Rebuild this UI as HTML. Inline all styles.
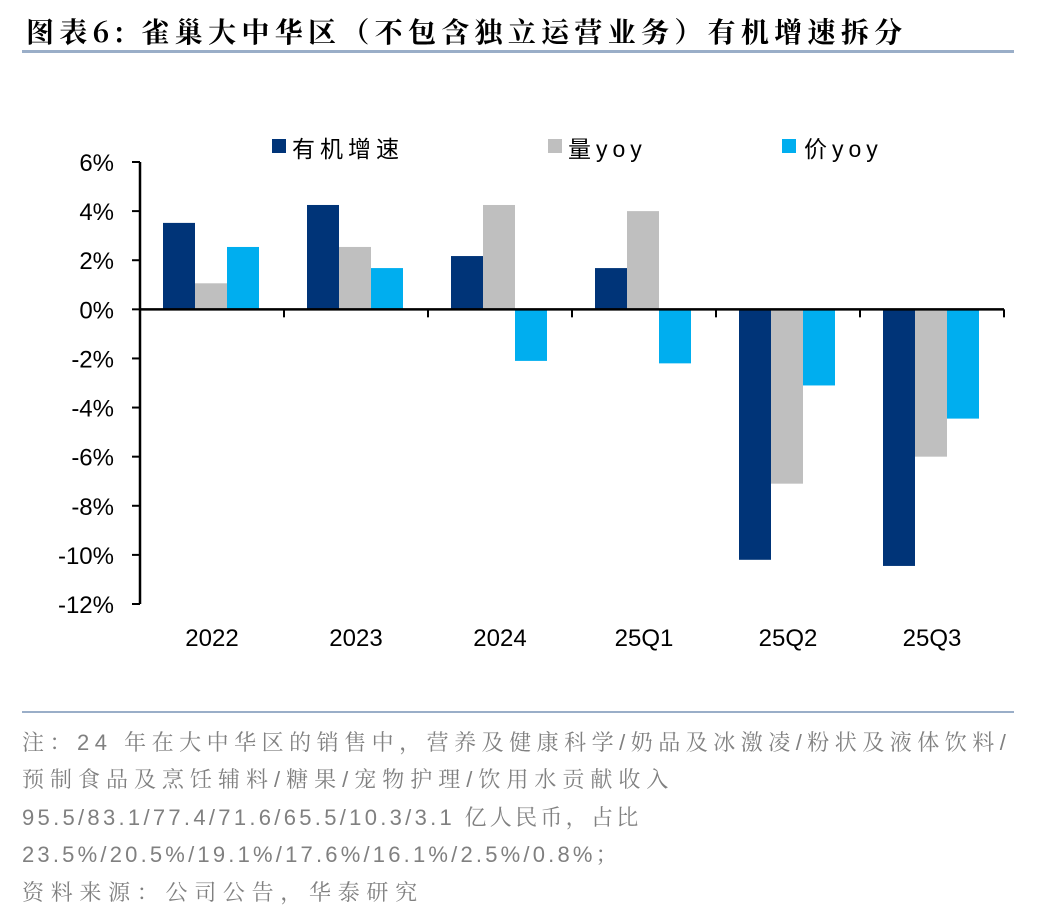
<!DOCTYPE html>
<html><head><meta charset="utf-8"><style>
body{margin:0;background:#fff;width:1048px;height:924px;overflow:hidden;font-family:"Liberation Sans","Noto Sans CJK SC",sans-serif;}
.title{position:absolute;left:26px;top:11px;font-size:28px;font-weight:bold;font-family:"Noto Serif CJK SC","Liberation Serif",serif;letter-spacing:5.3px;color:#000;white-space:nowrap}
.note{position:absolute;left:22px;font-size:22px;color:#808080;font-family:"Liberation Sans","Noto Serif CJK SC",sans-serif;white-space:nowrap}
</style></head><body>
<div class="title">图表6:&nbsp;雀巢大中华区（不包含独立运营业务）有机增速拆分</div>
<div style="position:absolute;left:22px;top:50px;width:992px;height:3px;background:#9aaec8"></div>
<svg id="chart" width="1048" height="700" style="position:absolute;left:0;top:0"></svg>
<div style="position:absolute;left:22px;top:711px;width:992px;height:2px;background:#9aaec8"></div>
<div class="note" style="top:726px;letter-spacing:5.5px">注：24 年在大中华区的销售中，营养及健康科学/奶品及冰激凌/粉状及液体饮料/</div>
<div class="note" style="top:763px;letter-spacing:6px">预制食品及烹饪辅料/糖果/宠物护理/饮用水贡献收入</div>
<div class="note" style="top:801px;letter-spacing:3.3px">95.5/83.1/77.4/71.6/65.5/10.3/3.1 亿人民币，占比</div>
<div class="note" style="top:838px;letter-spacing:3.2px">23.5%/20.5%/19.1%/17.6%/16.1%/2.5%/0.8%；</div>
<div class="note" style="top:876px;letter-spacing:6.7px">资料来源：公司公告，华泰研究</div>
<script>
const categories=["2022","2023","2024","25Q1","25Q2","25Q3"];
const organic=[3.52,4.25,2.17,1.68,-10.2,-10.45];
const volume=[1.06,2.54,4.25,4.0,-7.1,-6.0];
const price=[2.54,1.68,-2.1,-2.2,-3.1,-4.45];
const yTicks=[6,4,2,0,-2,-4,-6,-8,-10,-12];
const seriesNames=["有机增速","量yoy","价yoy"];
const colors=["#003478","#bfbfbf","#00aeef"];
const NS="http://www.w3.org/2000/svg";
const svg=document.getElementById('chart');
const x0=140,x1=1004,yTop=162,yBot=604;
const y=v=>yTop+(6-v)/18*(yBot-yTop);
const cw=(x1-x0)/categories.length;
const bw=32,off=23;
function mk(t,a){const e=document.createElementNS(NS,t);for(const k in a)e.setAttribute(k,a[k]);svg.appendChild(e);return e;}
[organic,volume,price].forEach((arr,s)=>{
 arr.forEach((v,i)=>{
  const r=mk('rect',{x:x0+i*cw+off+s*bw,y:Math.min(y(v),y(0)),width:bw,height:Math.abs(y(v)-y(0)),fill:colors[s]});
  
  
 });
});
const ya=mk('line',{x1:x0,y1:yTop,x2:x0,y2:yBot,stroke:'#000','stroke-width':2.5});


yTicks.forEach(t=>{
 mk('line',{x1:x0-8,y1:y(t),x2:x0,y2:y(t),stroke:'#000','stroke-width':2});
 const tx=mk('text',{x:x0-26,y:y(t)+9,'text-anchor':'end','font-size':24,fill:'#000'});
 tx.textContent=t+'%';
 
 
});
const xa=mk('line',{x1:x0,y1:y(0),x2:x1,y2:y(0),stroke:'#000','stroke-width':2.5});


categories.forEach((c,i)=>{
 mk('line',{x1:x0+(i+1)*cw,y1:y(0),x2:x0+(i+1)*cw,y2:y(0)+8,stroke:'#000','stroke-width':2});
 const tx=mk('text',{x:x0+i*cw+cw/2,y:646,'text-anchor':'middle','font-size':24,fill:'#000'});
 tx.textContent=c;
 
 
});
const lx=[272,548,782],tx2=[292,568,804];
seriesNames.forEach((n,s)=>{
 const r=mk('rect',{x:lx[s],y:139,width:14,height:14,fill:colors[s]});
 
 
 const t=mk('text',{x:tx2[s],y:157,'font-size':23,fill:'#000','letter-spacing':5});
 t.textContent=n;
 
 
});
</script>
</body></html>
